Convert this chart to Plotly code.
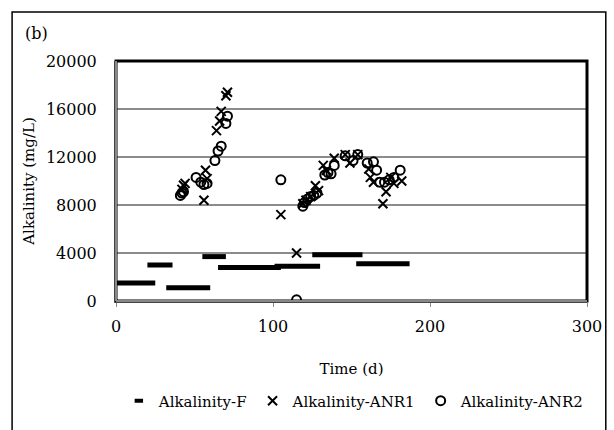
import plotly.graph_objects as go

# Alkalinity-F: constant feed values over day ranges
f_start = [0, 20, 32, 55, 65, 101, 125, 153]
f_end = [25, 36, 60, 70, 105, 130, 157, 187]
f_value = [1500, 3000, 1100, 3700, 2800, 2900, 3850, 3100]

# Alkalinity-ANR1
anr1_day = [42, 43, 44, 56, 57, 58, 64, 66, 67, 70, 71, 105, 115, 119, 121, 124, 127,
            129, 132, 134, 139, 146, 149, 154, 161, 162, 164, 170, 172, 175, 177, 182]
anr1_val = [9300, 9650, 9800, 8400, 10900, 10200, 14200, 15000, 15800, 17100, 17400,
            7200, 4000, 8100, 8400, 8700, 9600, 9200, 11300, 10900, 11900, 12200, 11500,
            12200, 11000, 10300, 9900, 8100, 9100, 10300, 9800, 10000]

# Alkalinity-ANR2
anr2_day = [41, 42, 43, 51, 54, 56, 58, 63, 65, 67, 70, 71, 105, 115, 119, 120, 122, 124,
            126, 128, 133, 135, 137, 139, 146, 151, 154, 160, 164, 166, 168, 171, 174, 177, 181]
anr2_val = [8800, 9000, 9100, 10300, 9900, 9700, 9800, 11700, 12500, 12900, 14800, 15400,
            10100, 100, 7900, 8200, 8500, 8700, 8800, 9000, 10500, 10700, 10600, 11300,
            12100, 11700, 12200, 11500, 11600, 10900, 9900, 9900, 10100, 10300, 10900]

x_ticks = [0, 100, 200, 300]
y_ticks = [0, 4000, 8000, 12000, 16000, 20000]
y_tick_labels = ["0", "4000", "8000", "12000", "16000", "20000"]

FONT = "DejaVu Serif"

fx, fy = [], []
for s, e, v in zip(f_start, f_end, f_value):
    fx += [s, e, None]
    fy += [v, v, None]

fig = go.Figure()
fig.add_trace(go.Scatter(x=fx, y=fy, mode="lines", line=dict(color="black", width=5),
                         showlegend=False, hoverinfo="skip"))
fig.add_trace(go.Scatter(x=[None], y=[None], mode="markers", name="Alkalinity-F",
                         marker=dict(symbol="line-ew", size=6, color="black",
                                     line=dict(color="black", width=4))))
fig.add_trace(go.Scatter(x=anr1_day, y=anr1_val, mode="markers", name="Alkalinity-ANR1",
                         marker=dict(symbol="x-thin", size=9, color="black",
                                     line=dict(color="black", width=2))))
fig.add_trace(go.Scatter(x=anr2_day, y=anr2_val, mode="markers", name="Alkalinity-ANR2",
                         marker=dict(symbol="circle-open", size=9, color="black",
                                     line=dict(color="black", width=2))))

L, R, T, B = 116, 592, 61, 306
W, H = 614, 430
def px(x):
    return (x - L) / (R - L)
def py(y):
    return (B - y) / (B - T)

fig.update_layout(
    width=W, height=H,
    margin=dict(l=L, r=W - R, t=T, b=H - B),
    paper_bgcolor="white", plot_bgcolor="white",
    font=dict(family=FONT, size=16, color="black"),
    showlegend=True,
    legend=dict(orientation="h", x=0.505, xanchor="center", y=py(408), yanchor="middle",
                font=dict(family=FONT, size=15), itemwidth=30, tracegroupgap=0,
                bgcolor="rgba(0,0,0,0)"),
    xaxis=dict(range=[0, 300], tickvals=x_ticks, showgrid=False, zeroline=False,
               showline=True, linecolor="#888888", linewidth=2, ticks="outside",
               ticklen=4, tickcolor="#888888", tickfont=dict(size=16),
               ticklabelstandoff=6,
               title=dict(text="Time (d)", font=dict(size=15), standoff=28)),
    yaxis=dict(range=[0, 20000], tickvals=y_ticks, ticktext=y_tick_labels,
               showgrid=True, gridcolor="#8c8c8c",
               gridwidth=1.5, zeroline=False, showline=True, linecolor="#888888",
               linewidth=2, ticks="", tickfont=dict(size=16), ticklabelstandoff=14,
               title=dict(text="Alkalinity (mg/L)", font=dict(size=15), standoff=8)),
    shapes=[
        dict(type="rect", xref="paper", yref="paper", x0=0, x1=1, y0=0, y1=1,
             line=dict(color="black", width=3), layer="above"),
        dict(type="line", xref="paper", yref="paper", x0=0, x1=0, y0=0, y1=1,
             line=dict(color="#888888", width=2), layer="above"),
        dict(type="line", xref="paper", yref="paper", x0=0, x1=1, y0=0, y1=0,
             line=dict(color="#888888", width=2), layer="above"),
        dict(type="rect", xref="paper", yref="paper", x0=px(11), x1=px(611),
             y0=py(445), y1=py(11), line=dict(color="black", width=1.5), layer="above"),
    ],
    annotations=[
        dict(text="(b)", xref="paper", yref="paper", x=px(22), y=py(33), xanchor="left",
             yanchor="middle", showarrow=False, font=dict(family=FONT, size=16)),
    ],
)

fig.write_html("out.html")
